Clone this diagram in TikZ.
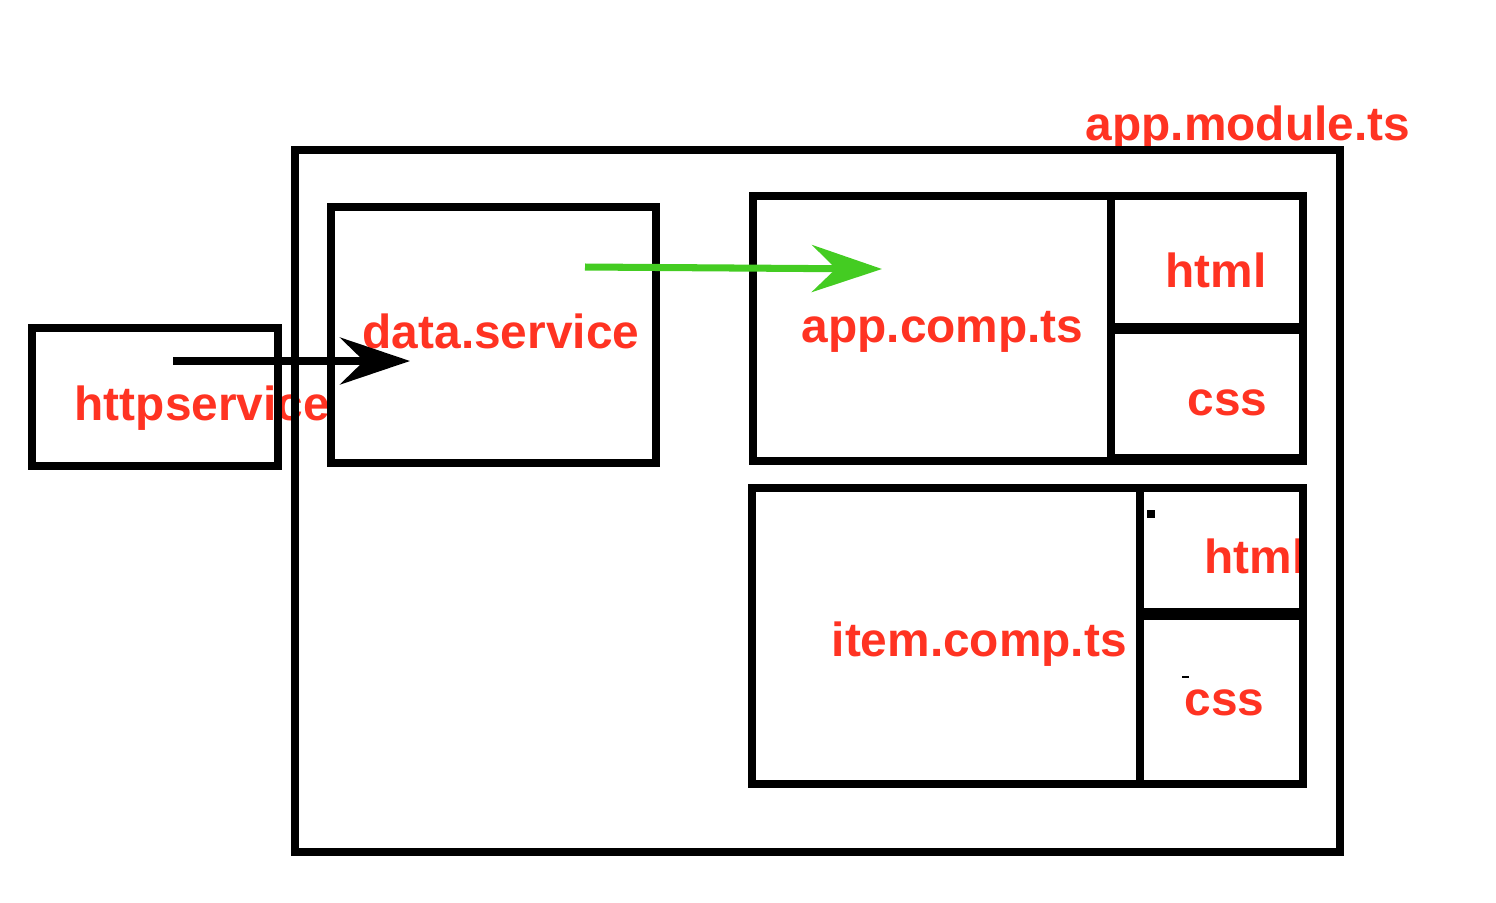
\documentclass[tikz,border=0pt]{standalone}
\usepackage{fontspec}
\setmainfont{Liberation Sans}
\usetikzlibrary{arrows.meta}
\definecolor{lblred}{HTML}{FF3322}
\definecolor{arrgreen}{HTML}{44CC22}
\begin{document}
\begin{tikzpicture}[x=0.01cm,y=-0.01cm,
  box/.style={draw=black,line width=2pt,inner sep=0pt,outer sep=0pt,anchor=north west},
  lbl/.style={text=lblred,font=\fontsize{13.6pt}{14pt}\selectfont\bfseries,inner sep=0pt,anchor=base west},
  conn/.style={line width=2pt,-{Stealth[length=0.7cm,width=0.47cm,inset=0.24cm]}}]
\useasboundingbox (0,0) rectangle (1496,902);
% labels
\node[lbl] (lmod) at (1085,140) {app.module.ts};
\node[lbl] (ldata) at (362,348) {data.service};
\node[lbl] (lhttp) at (74,420) {httpservice};
\node[lbl] (lapp) at (801,342) {app.comp.ts};
\node[lbl] (lhtml1) at (1165,287) {html};
\node[lbl] (lcss1) at (1187,415) {css};
\node[lbl] (litem) at (831,656) {item.comp.ts};
\node[lbl] (lhtml2) at (1204,573) {html};
\node[lbl] (lcss2) at (1184,715) {css};
% boxes
\node[box,minimum width=1045*0.01cm,minimum height=702*0.01cm] (module) at (295,150) {};
\node[box,minimum width=246*0.01cm,minimum height=138*0.01cm] (http) at (32,328) {};
\node[box,minimum width=325*0.01cm,minimum height=256*0.01cm] (data) at (331,207) {};
\node[box,minimum width=550*0.01cm,minimum height=265*0.01cm] (app) at (753,196) {};
\node[box,minimum width=192*0.01cm,minimum height=131*0.01cm] (html1) at (1111,196) {};
\node[box,minimum width=192*0.01cm,minimum height=128*0.01cm] (css1) at (1111,330) {};
\node[box,minimum width=551*0.01cm,minimum height=296*0.01cm] (item) at (752,488) {};
\node[box,minimum width=163*0.01cm,minimum height=124*0.01cm] (html2) at (1140,488) {};
\node[box,minimum width=163*0.01cm,minimum height=168*0.01cm] (css2) at (1140,616) {};
\node[fill=black,inner sep=0pt,minimum size=8*0.01cm] (dot) at (1151,514) {};
\coordinate (dashA) at (1182,677);
\coordinate (dashB) at (1189,677);
\draw[line width=0.3pt] (dashA) -- (dashB);
% connectors
\coordinate (hstart) at (173,361);
\coordinate (hend) at (410,361);
\draw[conn,black] (hstart) -- (hend);
\coordinate (gstart) at (585,267);
\coordinate (gend) at (882,269);
\draw[conn,arrgreen] (gstart) -- (gend);
\end{tikzpicture}
\end{document}
